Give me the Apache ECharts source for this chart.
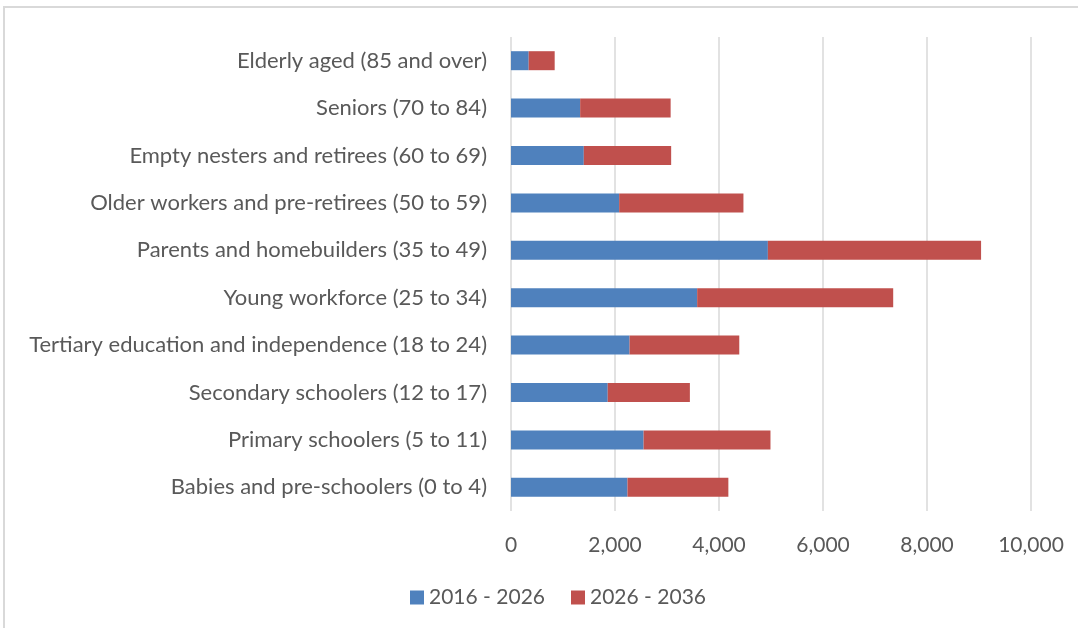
<!DOCTYPE html>
<html>
<head>
<meta charset="utf-8">
<style>
  html, body { margin: 0; padding: 0; background: #fff; }
  #main { width: 1078px; height: 628px; }
</style>
<script src="https://cdn.jsdelivr.net/npm/echarts@6/dist/echarts.min.js"></script>
</head>
<body>
<div id="main"></div>
<script>
// service age groups, listed top to bottom as in the chart
var categories = [
  'Elderly aged (85 and over)',
  'Seniors (70 to 84)',
  'Empty nesters and retirees (60 to 69)',
  'Older workers and pre-retirees (50 to 59)',
  'Parents and homebuilders (35 to 49)',
  'Young workforce (25 to 34)',
  'Tertiary education and independence (18 to 24)',
  'Secondary schoolers (12 to 17)',
  'Primary schoolers (5 to 11)',
  'Babies and pre-schoolers (0 to 4)'
];
var seriesNames = ['2016 - 2026', '2026 - 2036'];
var growth2016 = [340, 1330, 1400, 2080, 4940, 3580, 2280, 1860, 2550, 2240];
var growth2026 = [500, 1740, 1680, 2390, 4100, 3770, 2110, 1580, 2440, 1940];
var xTicks = [0, 2000, 4000, 6000, 8000, 10000];

var fontName = 'Lato';
var grey = '#595959';

var myChart = echarts.init(document.getElementById('main'));
myChart.setOption({
  animation: false,
  color: ['#4f81bd', '#c0504d'],
  graphic: [{
    type: 'rect',
    shape: { x: 4, y: 7, width: 1090, height: 640 },
    style: { fill: 'none', stroke: '#d9d9d9', lineWidth: 2 },
    silent: true
  }],
  grid: { left: 511, right: 47, top: 37, bottom: 117 },
  legend: {
    data: seriesNames,
    left: 405,
    top: 582,
    itemWidth: 14,
    itemHeight: 14,
    itemGap: 26,
    icon: 'rect',
    textStyle: { fontFamily: fontName, fontSize: 21, color: grey }
  },
  xAxis: {
    type: 'value',
    min: xTicks[0],
    max: xTicks[xTicks.length - 1],
    interval: 2000,
    axisLine: { show: false },
    axisTick: { show: false },
    splitLine: { lineStyle: { color: '#d9d9d9', width: 1.5 } },
    axisLabel: {
      margin: 24,
      fontFamily: fontName,
      fontSize: 21,
      color: grey,
      formatter: function (v) { return v.toLocaleString('en-US'); }
    }
  },
  yAxis: {
    type: 'category',
    inverse: true,
    data: categories,
    axisLine: { show: false },
    axisTick: { show: false },
    axisLabel: { margin: 24, fontFamily: fontName, fontSize: 22, color: grey }
  },
  series: [{
    name: seriesNames[0],
    type: 'bar',
    stack: 'total',
    barWidth: 19,
    data: growth2016
  }, {
    name: seriesNames[1],
    type: 'bar',
    stack: 'total',
    barWidth: 19,
    data: growth2026
  }]
});
</script>
</body>
</html>
